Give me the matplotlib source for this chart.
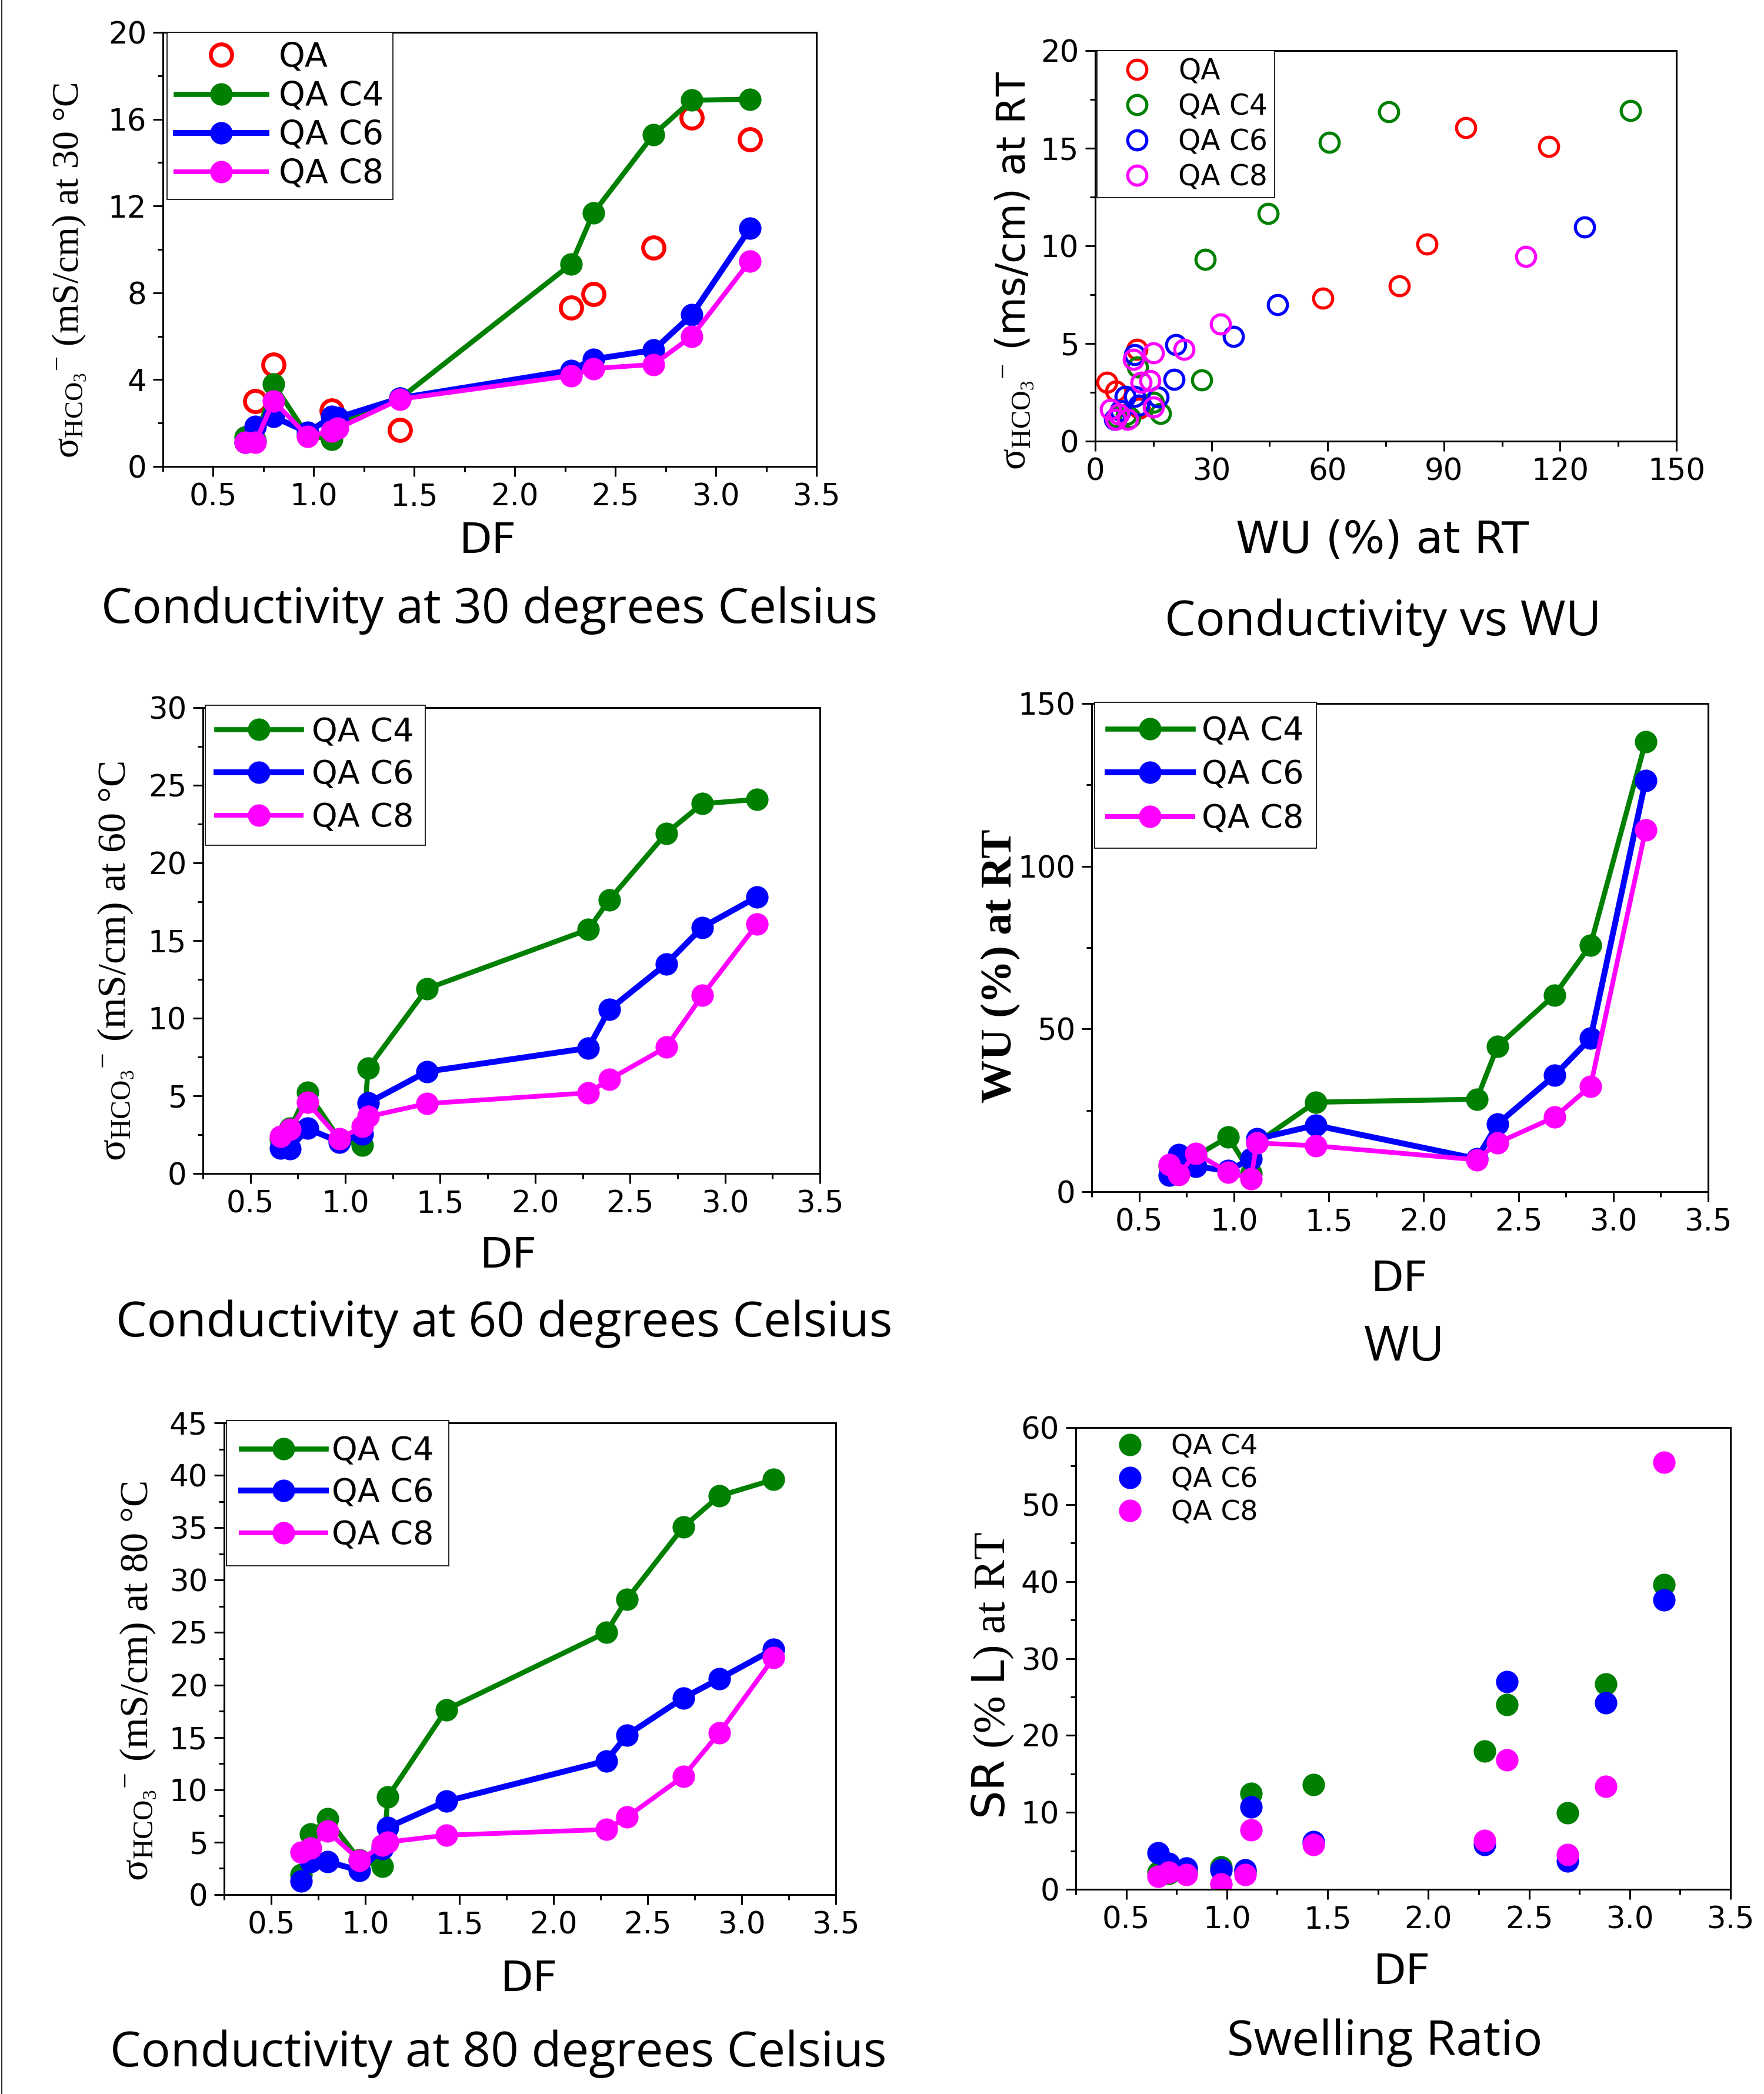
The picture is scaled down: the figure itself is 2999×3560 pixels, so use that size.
import matplotlib
matplotlib.use("Agg")
import matplotlib.pyplot as plt
from matplotlib.ticker import MultipleLocator
from matplotlib.lines import Line2D

# ---- data ----
df = [0.66, 0.71, 0.80, 0.97, 1.09, 1.12, 1.43, 2.28, 2.39, 2.69, 2.88, 3.17]
qa_df = [0.71, 0.80, 1.09, 1.43, 2.28, 2.39, 2.69, 2.88, 3.17]

# conductivity at 30 C (mS/cm)
qa_s30 = [3.02, 4.69, 2.57, 1.68, 7.32, 7.95, 10.08, 16.06, 15.08]
c4_s30 = [1.35, 1.2, 3.80, 1.41, 1.25, 2.0, 3.14, 9.32, 11.67, 15.29, 16.87, 16.92]
c6_s30 = [1.1, 1.84, 2.29, 1.57, 2.29, 2.25, 3.15, 4.43, 4.94, 5.36, 6.98, 10.97]
c8_s30 = [1.12, 1.12, 3.02, 1.39, 1.62, 1.75, 3.1, 4.18, 4.51, 4.70, 5.99, 9.47]

# conductivity at 60 C
c4_s60 = [2.2, 2.9, 5.24, 2.2, 1.83, 6.78, 11.9, 15.71, 17.62, 21.9, 23.81, 24.09]
c6_s60 = [1.64, 1.58, 2.9, 2.02, 2.52, 4.54, 6.56, 8.08, 10.55, 13.49, 15.85, 17.82]
c8_s60 = [2.4, 2.84, 4.57, 2.23, 3.03, 3.66, 4.5, 5.19, 6.05, 8.13, 11.46, 16.07]

# conductivity at 80 C
c4_s80 = [1.93, 5.8, 7.26, 3.3, 2.68, 9.32, 17.64, 25.01, 28.18, 35.07, 38.02, 39.59]
c6_s80 = [1.27, 3.14, 3.14, 2.3, 4.36, 6.41, 8.9, 12.76, 15.21, 18.76, 20.57, 23.41]
c8_s80 = [4.04, 4.45, 6.04, 3.27, 4.70, 5.01, 5.67, 6.21, 7.39, 11.28, 15.42, 22.6]

# water uptake (%) at RT
qa_wu = [3.0, 10.8, 5.3, 11.4, 58.8, 78.5, 85.7, 95.7, 117.1]
c4_wu = [8.0, 9.0, 11.0, 16.8, 5.6, 15.0, 27.5, 28.4, 44.7, 60.4, 75.8, 138.2]
c6_wu = [5.0, 11.3, 7.7, 6.5, 10.1, 16.2, 20.4, 10.1, 20.8, 35.7, 47.1, 126.3]
c8_wu = [8.4, 5.3, 11.8, 6.0, 3.9, 15.0, 14.1, 9.8, 15.0, 22.9, 32.4, 111.1]

# swelling ratio (% L) at RT
c4_sr = [2.25, 2.1, 2.2, 2.88, 2.3, 12.49, 13.64, 17.99, 24.02, 9.94, 26.67, 39.6]
c6_sr = [4.72, 3.39, 2.75, 2.5, 2.5, 10.7, 6.19, 5.8, 26.95, 3.68, 24.2, 37.64]
c8_sr = [1.68, 2.25, 1.94, 0.72, 1.94, 7.72, 5.81, 6.38, 16.84, 4.48, 13.39, 55.5]

RED = "#FF0000"
GREEN = "#008000"
BLUE = "#0000FF"
MAGENTA = "#FF00FF"

plt.rcParams["font.family"] = ["DejaVu Sans"]
plt.rcParams["mathtext.fontset"] = "custom"
plt.rcParams["mathtext.rm"] = "Liberation Serif"
plt.rcParams["mathtext.it"] = "Liberation Serif:italic"
plt.rcParams["mathtext.bf"] = "Liberation Serif:bold"
plt.rcParams["mathtext.sf"] = "DejaVu Sans"

W, H = 2999, 3560
fig = plt.figure(figsize=(W / 100, H / 100), dpi=100)


def fx(px):
    return px / W


def fy(py):
    return 1 - py / H


def make_axes(left, right, top, bottom):
    return fig.add_axes([fx(left), fy(bottom), (right - left) / W, (bottom - top) / H])


def style(ax, xlim, ylim, xmaj, xmin, ymaj, ymin, tick_fs=37):
    ax.set_xlim(*xlim)
    ax.set_ylim(*ylim)
    ax.xaxis.set_major_locator(MultipleLocator(xmaj))
    ax.xaxis.set_minor_locator(MultipleLocator(xmin))
    ax.yaxis.set_major_locator(MultipleLocator(ymaj))
    ax.yaxis.set_minor_locator(MultipleLocator(ymin))
    ax.tick_params(which="major", direction="out", length=12, width=2.2,
                   labelsize=tick_fs, pad=8)
    ax.tick_params(which="minor", direction="out", length=6.5, width=2.2)
    for sp in ax.spines.values():
        sp.set_linewidth(2.2)


def legend(ax, fs, box_x, box_y, bp, hl, tp, ls, frame=True):
    leg = ax.legend(loc="upper left", bbox_to_anchor=(fx(box_x), fy(box_y)),
                    bbox_transform=fig.transFigure, borderaxespad=0,
                    fontsize=fs, borderpad=bp, handlelength=hl, handletextpad=tp,
                    labelspacing=ls, numpoints=1, frameon=frame, fancybox=False,
                    framealpha=1, edgecolor="black")
    if frame:
        leg.get_frame().set_linewidth(1.2)
    return leg


def line_series(ax, x, y, color, label, lw):
    ax.plot(x, y, "-o", color=color, lw=lw, ms=27.5, mew=0, label=label)


def ylabel(text, cx, cy, size, **kw):
    fig.text(fx(cx), fy(cy), text, rotation=90, ha="center", va="center",
             rotation_mode="anchor", fontsize=size, **kw)


def xlabel(text, cx, by, size=52):
    fig.text(fx(cx), fy(by), text, ha="center", va="baseline", fontsize=size)


def title(text, cx, by, size=60):
    fig.text(fx(cx), fy(by), text, ha="center", va="baseline", fontsize=size,
             family="Open Sans")


sigma = r"$\mathrm{\sigma}_{\mathrm{HCO_3}}{}^{-}$"
LW_G, LW_B, LW_M = 6.2, 7.2, 5.8

# ---- panel 1: conductivity at 30 C ----
ax1 = make_axes(277, 1388, 55, 793)
ax1.plot(qa_df, qa_s30, "o", ls="none", mfc="none", mec=RED, ms=26, mew=4.8, label="QA")
line_series(ax1, df, c4_s30, GREEN, "QA C4", LW_G)
line_series(ax1, df, c6_s30, BLUE, "QA C6", LW_B)
line_series(ax1, df, c8_s30, MAGENTA, "QA C8", LW_M)
style(ax1, (0.25, 3.5), (0, 20), 0.5, 0.25, 4, 2)
legend(ax1, 41, 284, 55, 0.27, 2.7, 0.37, 0.195)
ylabel(sigma + " (mS/cm) at 30 °C", 118, 460, 46, family="Liberation Serif")
xlabel("DF", 829, 940)
title("Conductivity at 30 degrees Celsius", 832, 1059)

# ---- panel 2: conductivity vs WU ----
ax2 = make_axes(1862, 2850, 86, 750)
for wu, s, c, lab in [(qa_wu, qa_s30, RED, "QA"), (c4_wu, c4_s30, GREEN, "QA C4"),
                      (c6_wu, c6_s30, BLUE, "QA C6"), (c8_wu, c8_s30, MAGENTA, "QA C8")]:
    ax2.plot(wu, s, "o", ls="none", mfc="none", mec=c, ms=23.4, mew=3.8, label=lab)
style(ax2, (0, 150), (0, 20), 30, 15, 5, 2.5)
legend(ax2, 35, 1865, 86, 0.235, 2.33, 0.28, 0.244)
ylabel(sigma + " (ms/cm) at RT", 1725, 460, 48)
xlabel("WU (%) at RT", 2350, 940, 54)
title("Conductivity vs WU", 2351, 1080)

# ---- panel 3: conductivity at 60 C ----
ax3 = make_axes(345, 1394, 1203, 1995)
line_series(ax3, df, c4_s60, GREEN, "QA C4", LW_G)
line_series(ax3, df, c6_s60, BLUE, "QA C6", LW_B)
line_series(ax3, df, c8_s60, MAGENTA, "QA C8", LW_M)
style(ax3, (0.25, 3.5), (0, 30), 0.5, 0.25, 5, 2.5)
legend(ax3, 40, 349, 1199, 0.34, 2.6, 0.32, 0.34)
ylabel(sigma + " (mS/cm) at 60 °C", 197, 1634, 49, family="Liberation Serif")
xlabel("DF", 864, 2155)
title("Conductivity at 60 degrees Celsius", 857, 2272)

# ---- panel 4: WU ----
ax4 = make_axes(1856, 2904, 1196, 2026)
line_series(ax4, df, c4_wu, GREEN, "QA C4", LW_G)
line_series(ax4, df, c6_wu, BLUE, "QA C6", LW_B)
line_series(ax4, df, c8_wu, MAGENTA, "QA C8", LW_M)
style(ax4, (0.25, 3.5), (0, 150), 0.5, 0.25, 50, 25)
legend(ax4, 40, 1861, 1194, 0.40, 2.6, 0.27, 0.37)
ylabel("WU (%) at RT", 1701, 1642, 53, family="Liberation Serif", weight="bold")
xlabel("DF", 2379, 2195)
title("WU", 2388, 2313)

# ---- panel 5: conductivity at 80 C ----
ax5 = make_axes(381, 1421, 2419, 3221)
line_series(ax5, df, c4_s80, GREEN, "QA C4", LW_G)
line_series(ax5, df, c6_s80, BLUE, "QA C6", LW_B)
line_series(ax5, df, c8_s80, MAGENTA, "QA C8", LW_M)
style(ax5, (0.25, 3.5), (0, 45), 0.5, 0.25, 5, 2.5)
legend(ax5, 40, 385, 2415, 0.45, 2.6, 0.18, 0.316)
ylabel(sigma + " (mS/cm) at 80 °C", 235, 2858, 49, family="Liberation Serif")
xlabel("DF", 899, 3385)
title("Conductivity at 80 degrees Celsius", 847, 3513)

# ---- panel 6: swelling ratio ----
ax6 = make_axes(1829, 2942, 2427, 3212)
for y, c, lab in [(c4_sr, GREEN, "QA C4"), (c6_sr, BLUE, "QA C6"), (c8_sr, MAGENTA, "QA C8")]:
    ax6.plot(df, y, "o", ls="none", color=c, ms=27.5, mew=0, label=lab)
style(ax6, (0.25, 3.5), (0, 60), 0.5, 0.25, 10, 5)
legend(ax6, 34, 1864, 2428, 0.2, 2.0, 0.5, 0.233, frame=False)
ylabel(r"$\mathsf{SR}$ (% $\mathsf{L}$) at RT", 1688, 2849, 55, family="Liberation Serif")
xlabel("DF", 2383, 3373)
title("Swelling Ratio", 2354, 3494)

# thin border on the left edge of the page
fig.add_artist(Line2D([fx(3), fx(3)], [0, 1], transform=fig.transFigure,
                      color="#333333", lw=1.5))

fig.savefig("out.png", dpi=100)
